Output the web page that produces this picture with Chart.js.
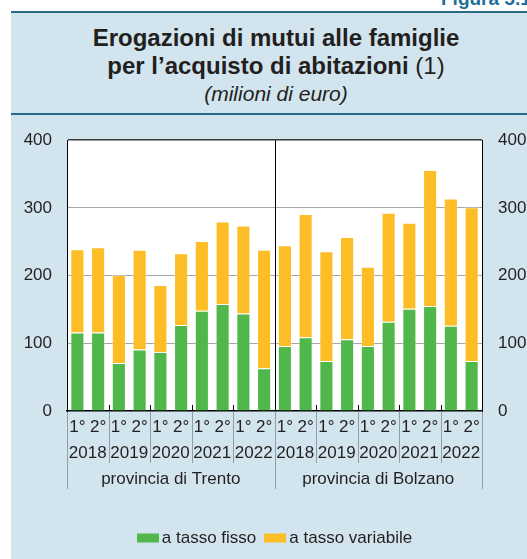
<!DOCTYPE html>
<html>
<head>
<meta charset="utf-8">
<script src="https://cdn.jsdelivr.net/npm/chart.js@4.4.0/dist/chart.umd.min.js"></script>
<style>
html, body { margin: 0; padding: 0; width: 527px; height: 559px; overflow: hidden; background: #fff;
	font-family: "Liberation Sans", Arial, sans-serif; color: #231f20; }
#pannello { position: absolute; left: 11px; top: 12px; width: 540px; height: 560px; background: #d2e4ee; }
.linea { position: absolute; left: 11px; width: 540px; height: 2px; background: #2a6a87; }
#figura { position: absolute; left: 441px; top: -11px; font-weight: bold; font-size: 19px; line-height: 19px; color: #1c6f9a; white-space: nowrap; }
.tit { position: absolute; left: 11px; width: 530px; text-align: center; white-space: nowrap; }
#t1 { top: 26px; font-size: 24px; line-height: 24px; font-weight: bold; }
#t2 { top: 54px; font-size: 24px; line-height: 24px; font-weight: bold; }
#t2 span { font-weight: normal; }
#t3 { top: 83px; font-size: 21px; line-height: 21px; font-style: italic; }
#grafico { position: absolute; left: 11px; top: 114px; }
</style>
</head>
<body>
<div id="pannello"></div>
<div class="linea" style="top:11px"></div>
<div class="linea" style="top:113px"></div>
<div id="figura">Figura 5.1</div>
<div class="tit" id="t1">Erogazioni di mutui alle famiglie</div>
<div class="tit" id="t2">per l’acquisto di abitazioni <span>(1)</span></div>
<div class="tit" id="t3">(milioni di euro)</div>
<canvas id="grafico" width="531" height="445"></canvas>
<script>
// semestri, anni e province (etichette dell'asse x)
const semestri = ["1°", "2°", "1°", "2°", "1°", "2°", "1°", "2°", "1°", "2°",
	"1°", "2°", "1°", "2°", "1°", "2°", "1°", "2°", "1°", "2°"];
const anni = ["2018", "2019", "2020", "2021", "2022", "2018", "2019", "2020", "2021", "2022"];
const province = ["provincia di Trento", "provincia di Bolzano"];

// valori in milioni di euro
const tassoFisso = [116, 116, 71, 91, 87, 127, 148, 158, 144, 63,
	96, 109, 74, 106, 96, 132, 151, 155, 126, 74];
const tassoVariabile = [123, 126, 130, 147, 99, 106, 103, 122, 130, 175,
	149, 182, 162, 151, 117, 161, 127, 201, 188, 227];

const yTicks = [0, 100, 200, 300, 400];

const FONT = "'Liberation Sans', Arial, sans-serif";
const TESTO = "#231f20";

const etichetteAsse = {
	id: "etichetteAsse",
	beforeDraw(chart) {
		const a = chart.chartArea;
		chart.ctx.save();
		chart.ctx.fillStyle = "#fff";
		chart.ctx.fillRect(a.left, a.top, a.right - a.left, a.bottom - a.top);
		chart.ctx.restore();
	},
	afterDraw(chart) {
		const ctx = chart.ctx;
		const a = chart.chartArea;
		const x = chart.scales.x;
		const n = semestri.length;
		const bordo = (i) => {
			if (i <= 0) return a.left;
			if (i >= n) return a.right;
			return (x.getPixelForValue(i - 1) + x.getPixelForValue(i)) / 2;
		};
		ctx.save();
		// linee di separazione sotto l'asse
		ctx.strokeStyle = "#8e9ea8";
		ctx.lineWidth = 1;
		for (let k = 0; k <= anni.length; k++) {
			const bx = Math.round(bordo(k * 2)) + 0.5;
			const lunga = k % 5 == 0;
			ctx.beginPath();
			ctx.moveTo(bx, a.bottom + 1);
			ctx.lineTo(bx, lunga ? a.bottom + 78 : a.bottom + 52);
			ctx.stroke();
		}
		// tacche e divisorio nell'area del grafico
		ctx.strokeStyle = "#000";
		for (let k = 1; k < anni.length; k++) {
			const bx = Math.round(bordo(k * 2)) + 0.5;
			ctx.beginPath();
			ctx.moveTo(bx, k == 5 ? a.top : a.bottom - 6);
			ctx.lineTo(bx, a.bottom);
			ctx.stroke();
		}
		// testi
		ctx.fillStyle = TESTO;
		ctx.font = "17px " + FONT;
		ctx.textAlign = "center";
		ctx.textBaseline = "middle";
		for (let i = 0; i < n; i++) {
			ctx.fillText(semestri[i], x.getPixelForValue(i), a.bottom + 16);
		}
		for (let k = 0; k < anni.length; k++) {
			ctx.fillText(anni[k], (bordo(k * 2) + bordo(k * 2 + 2)) / 2, a.bottom + 42);
		}
		for (let p = 0; p < province.length; p++) {
			ctx.fillText(province[p], (bordo(p * 10) + bordo(p * 10 + 10)) / 2, a.bottom + 68);
		}
		// legenda
		const ds = chart.data.datasets;
		const larghezze = ds.map((d) => 22 + 3 + ctx.measureText(d.label).width);
		const totale = larghezze.reduce((s, w) => s + w, 0) + 8 * (ds.length - 1);
		let lx = (a.left + a.right) / 2 - totale / 2;
		const ly = a.bottom + 127;
		ctx.textAlign = "left";
		ds.forEach((d, i) => {
			ctx.fillStyle = d.backgroundColor;
			ctx.fillRect(Math.round(lx), ly - 4.5, 22, 9);
			ctx.fillStyle = TESTO;
			ctx.fillText(d.label, lx + 25, ly + 0.5);
			lx += larghezze[i] + 8;
		});
		ctx.restore();
	}
};

const grafico = new Chart(document.getElementById("grafico"), {
	type: "bar",
	data: {
		labels: semestri.map((s, i) => s + " " + anni[Math.floor(i / 2)]),
		datasets: [
			{
				label: "a tasso fisso",
				data: tassoFisso,
				backgroundColor: "#50b84a",
				borderColor: "rgba(255,255,255,0.35)",
				borderWidth: 1,
				barPercentage: 0.68,
				categoryPercentage: 1,
			},
			{
				label: "a tasso variabile",
				data: tassoVariabile,
				backgroundColor: "#fdbd27",
				borderColor: "rgba(255,255,255,0.35)",
				borderWidth: 1,
				barPercentage: 0.68,
				categoryPercentage: 1,
			},
		],
	},
	options: {
		responsive: false,
		animation: false,
		devicePixelRatio: 1,
		layout: { padding: { top: 24, left: 0, right: 0, bottom: 41 } },
		plugins: {
			legend: { display: false },
			tooltip: { enabled: false },
		},
		scales: {
			x: {
				stacked: true,
				ticks: { display: false },
				grid: { display: false },
				border: { color: "#000", width: 1.5 },
				afterFit(scale) { scale.height = 107; },
			},
			y: {
				stacked: true,
				min: 0,
				max: 400,
				afterBuildTicks(scale) { scale.ticks = yTicks.map((v) => ({ value: v })); },
				ticks: { color: TESTO, font: { family: FONT, size: 17 }, padding: 15 },
				grid: {
					drawTicks: false,
					color: (c) => (c.tick.value == 400 ? "#3a3a3a" : c.tick.value == 0 ? "rgba(0,0,0,0)" : "#a6a6a6"),
					lineWidth: (c) => (c.tick.value == 400 ? 1.5 : 1),
				},
				border: { color: "#000", width: 1 },
				afterFit(scale) { scale.width = 56; },
			},
			y2: {
				position: "right",
				min: 0,
				max: 400,
				afterBuildTicks(scale) { scale.ticks = yTicks.map((v) => ({ value: v })); },
				ticks: { color: TESTO, font: { family: FONT, size: 17 }, padding: 16 },
				grid: { display: false, drawTicks: false },
				border: { color: "#000", width: 1 },
				afterFit(scale) { scale.width = 60; },
			},
		},
	},
	plugins: [etichetteAsse],
});
</script>
</body>
</html>
